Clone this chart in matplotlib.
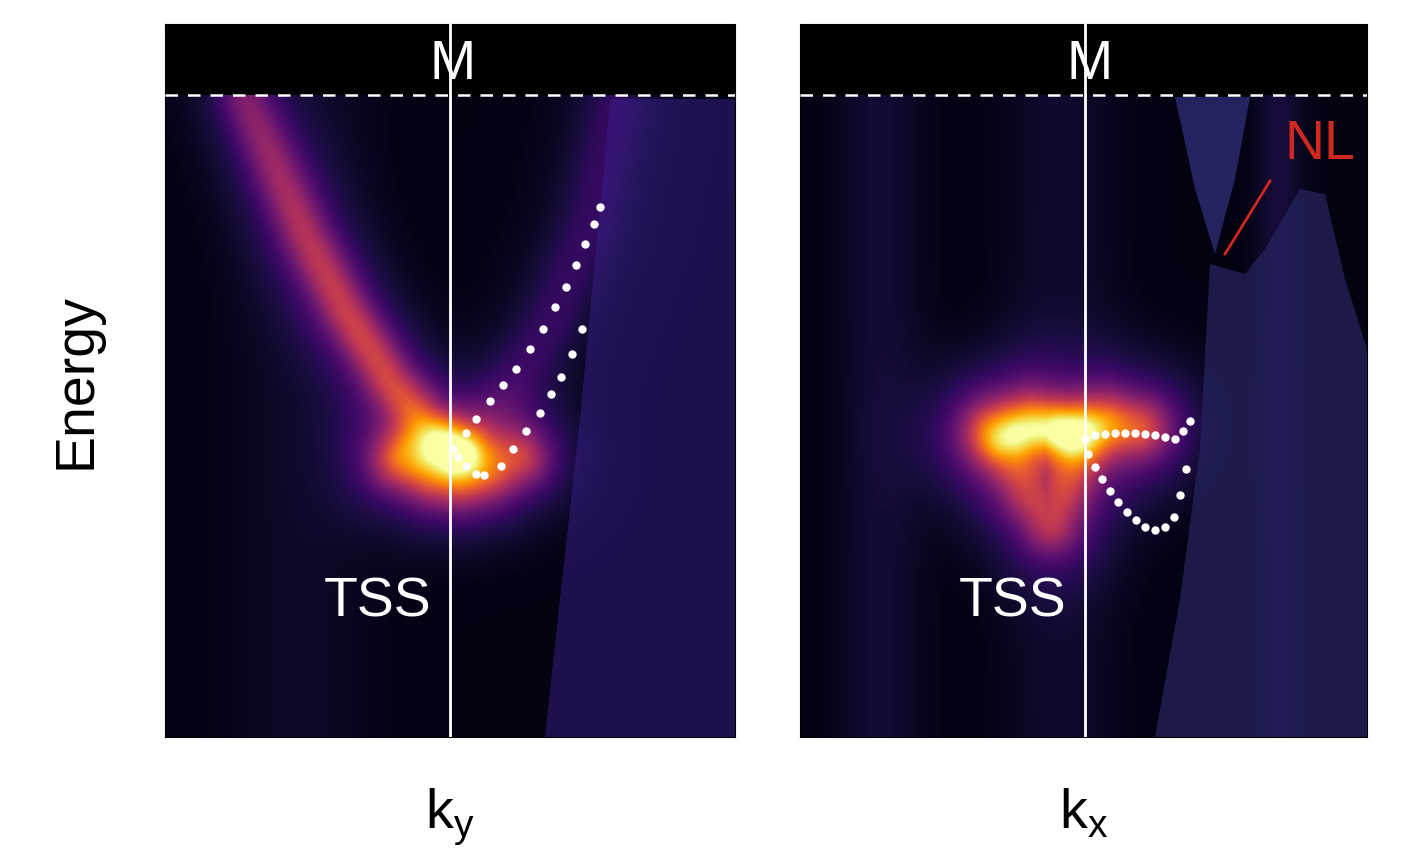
import numpy as np
import matplotlib
matplotlib.use("Agg")
import matplotlib.pyplot as plt
from matplotlib.patches import Polygon

plt.rcParams["font.family"] = ["Liberation Sans", "DejaVu Sans"]

# panel extents in reference pixel coordinates (x0, x1, y_top, y_bottom)
LEFT_BOX = (165, 735, 25, 738)
RIGHT_BOX = (800, 1367, 25, 738)
FERMI_Y = 96

# left panel: band traces (x, y)
left_arm_x = [245, 272, 305, 345, 390, 425, 460]
left_arm_y = [100, 160, 235, 310, 382, 425, 452]
left_bottom_x = [400, 430, 460, 490, 520]
left_bottom_y = [465, 478, 482, 475, 460]
left_right_arm_x = [460, 500, 550, 590, 615]
left_right_arm_y = [450, 405, 325, 225, 110]
left_dots_outer_x = [453, 458, 466, 476, 484, 501, 513, 526, 540, 551, 561, 572, 582]
left_dots_outer_y = [450, 458, 467, 475, 476, 467, 450, 432, 414, 395, 378, 355, 330]
left_dots_inner_x = [466, 476, 490, 503, 516, 530, 543, 555, 566, 576, 585, 594, 600]
left_dots_inner_y = [434, 420, 402, 386, 370, 350, 330, 308, 288, 266, 245, 225, 208]
left_shade_x = [610, 735, 735, 545, 560, 580, 595, 605]
left_shade_y = [100, 100, 738, 738, 600, 420, 260, 160]

# right panel: bright pocket and traces
right_top_x = [995, 1030, 1070, 1110, 1140]
right_top_y = [432, 422, 428, 422, 428]
right_low_x = [1010, 1030, 1050, 1075]
right_low_y = [450, 495, 525, 460]
right_dots_top_x = [1085, 1095, 1105, 1115, 1125, 1135, 1145, 1155, 1165, 1175, 1183, 1190]
right_dots_top_y = [440, 436, 435, 434, 434, 434, 435, 436, 438, 440, 432, 422]
right_dots_low_x = [1088, 1095, 1102, 1110, 1118, 1127, 1136, 1145, 1155, 1165, 1174, 1180, 1186]
right_dots_low_y = [455, 468, 480, 492, 503, 513, 521, 528, 531, 528, 518, 496, 470]
right_upper_x = [1175, 1250, 1235, 1215, 1195]
right_upper_y = [98, 98, 180, 255, 190]
right_lower_x = [1210, 1245, 1265, 1300, 1325, 1345, 1367, 1367, 1155, 1180, 1200]
right_lower_y = [265, 275, 250, 190, 195, 280, 350, 738, 738, 600, 450]
nl_line_x = [1270, 1225]
nl_line_y = [182, 255]


def seg_dist(px, py, xs, ys):
    d = np.full(px.shape, np.inf)
    for i in range(len(xs) - 1):
        ax_, ay_, bx, by = xs[i], ys[i], xs[i + 1], ys[i + 1]
        vx, vy = bx - ax_, by - ay_
        t = np.clip(((px - ax_) * vx + (py - ay_) * vy) / (vx * vx + vy * vy), 0, 1)
        d = np.minimum(d, np.hypot(px - ax_ - t * vx, py - ay_ - t * vy))
    return d


def band(px, py, xs, ys, amp, sig):
    d = seg_dist(px, py, xs, ys)
    return amp * (0.65 * np.exp(-d ** 2 / (2 * sig ** 2)) + 0.35 * np.exp(-d ** 2 / (2 * (2.2 * sig) ** 2)))


def grid(box):
    x = np.linspace(box[0], box[1], 300)
    y = np.linspace(box[2], box[3], 380)
    return np.meshgrid(x, y)


fig = plt.figure(figsize=(14.21, 8.53), dpi=100)


def make_ax(box):
    W, H = 1421, 853
    ax = fig.add_axes([box[0] / W, 1 - box[3] / H, (box[1] - box[0]) / W, (box[3] - box[2]) / H])
    ax.set_xlim(box[0], box[1])
    ax.set_ylim(box[3], box[2])
    ax.set_xticks([])
    ax.set_yticks([])
    return ax


# ---------- left panel ----------
ax1 = make_ax(LEFT_BOX)
X, Y = grid(LEFT_BOX)
I = 0.03 + 0.04 * np.exp(-((X - 300) / 80) ** 2)
fade = np.clip(0.6 + (Y - 100) / 600, 0, 1)
I += band(X, Y, left_arm_x, left_arm_y, 0.5, 17) * fade
I += band(X, Y, left_bottom_x, left_bottom_y, 0.45, 20)
I += band(X, Y, left_right_arm_x, left_right_arm_y, 0.14, 22)
I += 0.35 * np.exp(-(((X - 440) / 45) ** 2 + ((Y - 450) / 28) ** 2))
ax1.imshow(I, extent=(LEFT_BOX[0], LEFT_BOX[1], LEFT_BOX[3], LEFT_BOX[2]),
           cmap="inferno", vmin=0, vmax=1.0, aspect="auto", interpolation="bilinear")
ax1.add_patch(Polygon(np.c_[left_shade_x, left_shade_y], closed=True,
                      fc="#3a1f8a", ec="none", alpha=0.5))
ax1.add_patch(plt.Rectangle((LEFT_BOX[0], LEFT_BOX[2]), LEFT_BOX[1] - LEFT_BOX[0],
                            FERMI_Y - LEFT_BOX[2], fc="black", ec="none", zorder=3))
ax1.axvline(450, color="white", lw=2, zorder=4)
ax1.plot(left_dots_outer_x, left_dots_outer_y, "o", color="white", ms=5, zorder=5)
ax1.plot(left_dots_inner_x, left_dots_inner_y, "o", color="white", ms=5, zorder=5)
ax1.text(378, 603, "TSS", color="white", fontsize=40, ha="center", va="center", zorder=6)

# ---------- right panel ----------
ax2 = make_ax(RIGHT_BOX)
X, Y = grid(RIGHT_BOX)
I = 0.03 + 0.06 * np.exp(-((X - 880) / 45) ** 2) + 0.07 * np.exp(-((X - 1280) / 25) ** 2)
I += 0.05 * np.exp(-((X - 1060) / 60) ** 2)
I += band(X, Y, right_top_x, right_top_y, 0.5, 22)
I += band(X, Y, right_low_x, right_low_y, 0.42, 20)
I += 0.35 * np.exp(-(((X - 1065) / 55) ** 2 + ((Y - 432) / 24) ** 2))
ax2.imshow(I, extent=(RIGHT_BOX[0], RIGHT_BOX[1], RIGHT_BOX[3], RIGHT_BOX[2]),
           cmap="inferno", vmin=0, vmax=1.0, aspect="auto", interpolation="bilinear")
ax2.add_patch(Polygon(np.c_[right_upper_x, right_upper_y], closed=True,
                      fc="#2b2a6e", ec="none", alpha=0.85))
ax2.add_patch(Polygon(np.c_[right_lower_x, right_lower_y], closed=True,
                      fc="#262560", ec="none", alpha=0.7))
ax2.add_patch(plt.Rectangle((RIGHT_BOX[0], RIGHT_BOX[2]), RIGHT_BOX[1] - RIGHT_BOX[0],
                            FERMI_Y - RIGHT_BOX[2], fc="black", ec="none", zorder=3))
ax2.axvline(1085, color="white", lw=2, zorder=4)
ax2.plot(right_dots_top_x, right_dots_top_y, "o", color="white", ms=5, zorder=5)
ax2.plot(right_dots_low_x, right_dots_low_y, "o", color="white", ms=5, zorder=5)
ax2.plot(nl_line_x, nl_line_y, color="#d0281e", lw=2, zorder=5)
ax2.text(1320, 145, "NL", color="#d0281e", fontsize=40, ha="center", va="center", zorder=6)
ax2.text(1013, 603, "TSS", color="white", fontsize=40, ha="center", va="center", zorder=6)

for ax, box, xl, mx in [(ax1, LEFT_BOX, "k$_\\mathregular{y}$", 453),
                        (ax2, RIGHT_BOX, "k$_\\mathregular{x}$", 1090)]:
    ax.axhline(FERMI_Y, color="white", lw=1.8, ls=(0, (5, 4)), zorder=5)
    ax.text(mx, 65, "M", color="white", fontsize=40, ha="center", va="center", zorder=6)
    ax.set_xlabel(xl, fontsize=40, labelpad=35)
    for s in ax.spines.values():
        s.set_color("black")

ax1.set_ylabel("Energy", fontsize=40, labelpad=45)

fig.savefig("out.png", dpi=100, facecolor="white")
